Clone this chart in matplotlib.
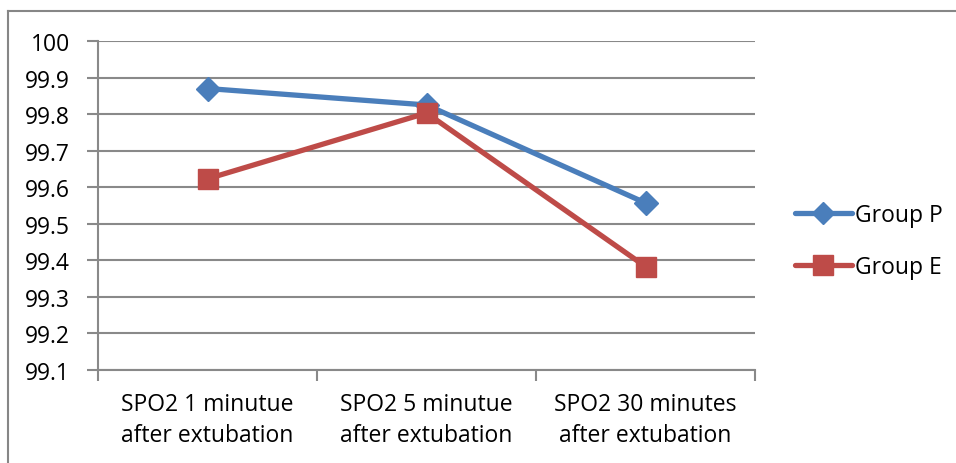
import numpy as np
import matplotlib.pyplot as plt
from matplotlib.lines import Line2D

plt.rcParams['font.family'] = ['Open Sans', 'DejaVu Sans']

# Data
categories = ["SPO2 1 minutue\nafter extubation",
              "SPO2 5 minutue\nafter extubation",
              "SPO2 30 minutes\nafter extubation"]
group_p = [99.87, 99.825, 99.557]
group_e = [99.623, 99.803, 99.383]
yticks = [99.1, 99.2, 99.3, 99.4, 99.5, 99.6, 99.7, 99.8, 99.9, 100]

W, H = 956, 464
fig = plt.figure(figsize=(W / 100, H / 100), dpi=100)
ax = fig.add_axes([98 / W, 1 - 371 / H, (755 - 98) / W, (371 - 42) / H])

x = np.arange(len(categories))
ax.plot(x, group_p, color="#4A7EBB", lw=3.8, marker="D", ms=12,
        label="Group P", solid_capstyle="round")
ax.plot(x, group_e, color="#BE4B48", lw=3.8, marker="s", ms=15,
        label="Group E", solid_capstyle="round")

ax.set_xlim(-0.5, 2.5)
ax.set_ylim(99.1, 100)
ax.set_yticks(yticks)
ax.set_yticklabels(["100" if v == 100 else f"{v:.1f}" for v in yticks])
ax.yaxis.grid(True, color="#898989", lw=1.5)
ax.set_axisbelow(True)

# category labels between boundary ticks
ax.set_xticks(x)
ax.set_xticklabels(categories, linespacing=1.4)
ax.tick_params(axis="x", length=0, pad=16, labelsize=16.5)
ax.set_xticks([-0.5, 0.5, 1.5, 2.5], minor=True)
ax.tick_params(axis="x", which="minor", length=8, width=1.5, color="#898989")
ax.tick_params(axis="y", length=8, width=1.5, color="#898989", labelsize=16.5, pad=12)

for s in ["top", "right"]:
    ax.spines[s].set_visible(False)
for s in ["left", "bottom"]:
    ax.spines[s].set_color("#898989")
    ax.spines[s].set_linewidth(1.5)

leg = fig.legend(loc="center left", bbox_to_anchor=(774 / W, 1 - 242 / H),
                 frameon=False, fontsize=16.5, handlelength=2.5,
                 labelspacing=1.2, handletextpad=0.15, markerscale=0.95)

# outer chart frame (left and top edges visible)
frame_col = "#868686"
fig.add_artist(Line2D([8 / W, 8 / W], [0, 1 - 12 / H], transform=fig.transFigure,
                      color=frame_col, lw=1.5))
fig.add_artist(Line2D([8 / W, 1], [1 - 12 / H, 1 - 12 / H], transform=fig.transFigure,
                      color=frame_col, lw=1.5))

fig.savefig("out.png", dpi=100)
